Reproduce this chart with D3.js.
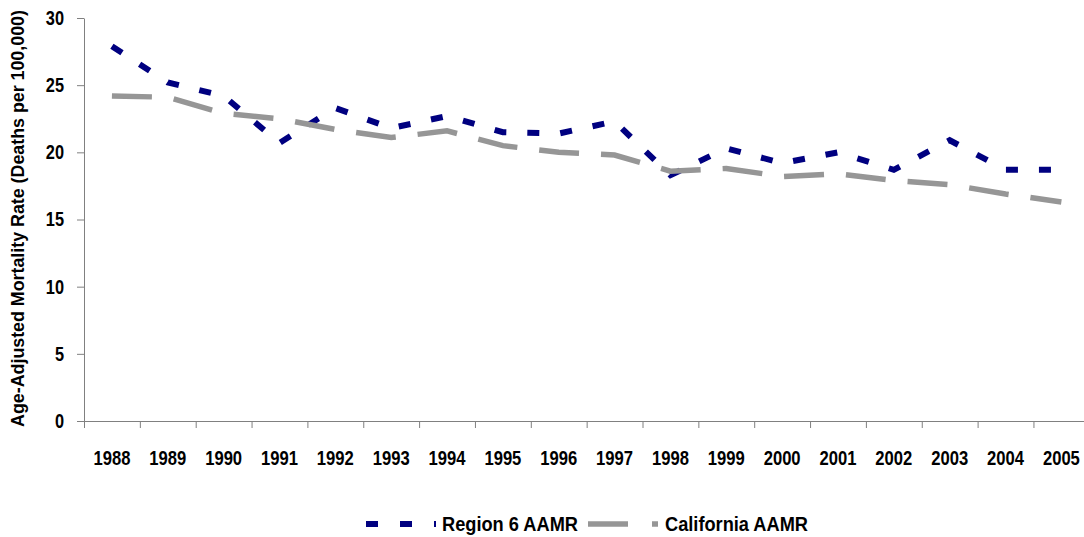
<!DOCTYPE html>
<html>
<head>
<meta charset="utf-8">
<script src="https://cdn.jsdelivr.net/npm/d3@7"></script>
<style>
  html, body { margin: 0; padding: 0; background: #fff; }
  svg { display: block; }
  text { font-family: "Liberation Sans", Arial, sans-serif; font-weight: bold; fill: #000; }
</style>
</head>
<body>
<svg id="chart" width="1084" height="537"></svg>
<script>
const years = ["1988","1989","1990","1991","1992","1993","1994","1995","1996","1997","1998","1999","2000","2001","2002","2003","2004","2005"];
const region6 = [27.9, 25.2, 24.2, 20.7, 23.3, 21.8, 22.7, 21.5, 21.4, 22.3, 18.3, 20.3, 19.2, 20.0, 18.7, 20.9, 18.7, 18.7];
const california = [24.2, 24.1, 22.9, 22.5, 21.7, 21.1, 21.6, 20.5, 20.0, 19.8, 18.6, 18.8, 18.2, 18.4, 17.9, 17.6, 16.9, 16.3];
const yTicks = [0, 5, 10, 15, 20, 25, 30];
const seriesNames = ["Region 6 AAMR", "California AAMR"];
const yTitle = "Age-Adjusted Mortality Rate (Deaths per 100,000)";

const svg = d3.select("#chart");
const plotLeft = 84, plotTop = 18, plotBottom = 421, step = 55.85;
const plotRight = plotLeft + step * years.length;

const x = d3.scaleBand().domain(years).range([plotLeft, plotRight]);
const xIdx = d3.scaleLinear().domain([0, years.length]).range([plotLeft, plotRight]);
const y = d3.scaleLinear().domain([0, 30]).range([plotBottom, plotTop]);

const axisColor = "#808080";

// Y axis
const gy = svg.append("g").attr("transform", `translate(${plotLeft},0)`)
  .call(d3.axisLeft(y).tickValues(yTicks).tickSize(7).tickSizeOuter(0).tickPadding(13));
gy.select(".domain").attr("stroke", axisColor);
gy.selectAll(".tick line").attr("stroke", axisColor);
gy.selectAll(".tick text")
  .attr("font-size", 19.5)
  .attr("dy", "0.33em")
  .attr("textLength", d => String(d).length * 9.1)
  .attr("lengthAdjust", "spacingAndGlyphs")
  .style("font-family", '"Liberation Sans", Arial, sans-serif')
  .style("font-weight", "bold")
  .attr("fill", "#000");

// X axis ticks at category boundaries
const gx = svg.append("g").attr("transform", `translate(0,${plotBottom})`)
  .call(d3.axisBottom(xIdx).tickValues(d3.range(0, years.length + 1)).tickSize(7).tickSizeOuter(0).tickFormat(""));
gx.select(".domain").attr("stroke", axisColor);
gx.selectAll(".tick line").attr("stroke", axisColor);

// X labels at band centers (horizontally condensed like the original)
const gxl = svg.append("g").attr("transform", `translate(0,${plotBottom})`)
  .call(d3.axisBottom(x).tickSize(0).tickPadding(44));
gxl.select(".domain").remove();
gxl.selectAll(".tick text")
  .attr("dy", 0)
  .attr("font-size", 20.5)
  .style("font-family", '"Liberation Sans", Arial, sans-serif')
  .style("font-weight", "bold")
  .attr("fill", "#000")
  .each(function() {
    const t = d3.select(this);
    const yy = +t.attr("y");
    const w = this.getComputedTextLength();
    const k = 37 / w;
    t.attr("y", null).attr("transform", `translate(0,${yy}) scale(${k},1)`);
  });

// Y title
const title = svg.append("text")
  .attr("text-anchor", "middle")
  .attr("font-size", 18.5)
  .text(yTitle);
const titleK = 417 / title.node().getComputedTextLength();
title.attr("transform", `translate(24,${(10 + 427) / 2}) rotate(-90) scale(${titleK},1)`);

// Lines
const line = d3.line()
  .x((d, i) => x(years[i]) + x.bandwidth() / 2)
  .y(d => y(d));

const styles = [
  { color: "#000080", width: 6, dash: "12,21" },
  { color: "#969696", width: 5.5, dash: "40,22" }
];
const data = [region6, california];

data.forEach((vals, k) => {
  svg.append("path")
    .datum(vals)
    .attr("fill", "none")
    .attr("stroke", styles[k].color)
    .attr("stroke-width", styles[k].width)
    .attr("stroke-dasharray", styles[k].dash)
    .attr("stroke-linecap", "butt")
    .attr("stroke-linejoin", "miter")
    .attr("d", line);
});

// Legend
const legendY = 524;
const legendItems = [
  { x0: 366, tx: 442, tw: 136, dash: "12,22" },
  { x0: 588, tx: 665, tw: 143, dash: "40,24" }
];
legendItems.forEach((it, k) => {
  svg.append("line")
    .attr("x1", it.x0).attr("x2", it.x0 + 70)
    .attr("y1", legendY).attr("y2", legendY)
    .attr("stroke", styles[k].color)
    .attr("stroke-width", styles[k].width)
    .attr("stroke-dasharray", it.dash);
  svg.append("text")
    .attr("x", it.tx).attr("y", legendY + 7)
    .attr("font-size", 20.5)
    .attr("textLength", it.tw)
    .attr("lengthAdjust", "spacingAndGlyphs")
    .text(seriesNames[k]);
});
</script>
</body>
</html>
